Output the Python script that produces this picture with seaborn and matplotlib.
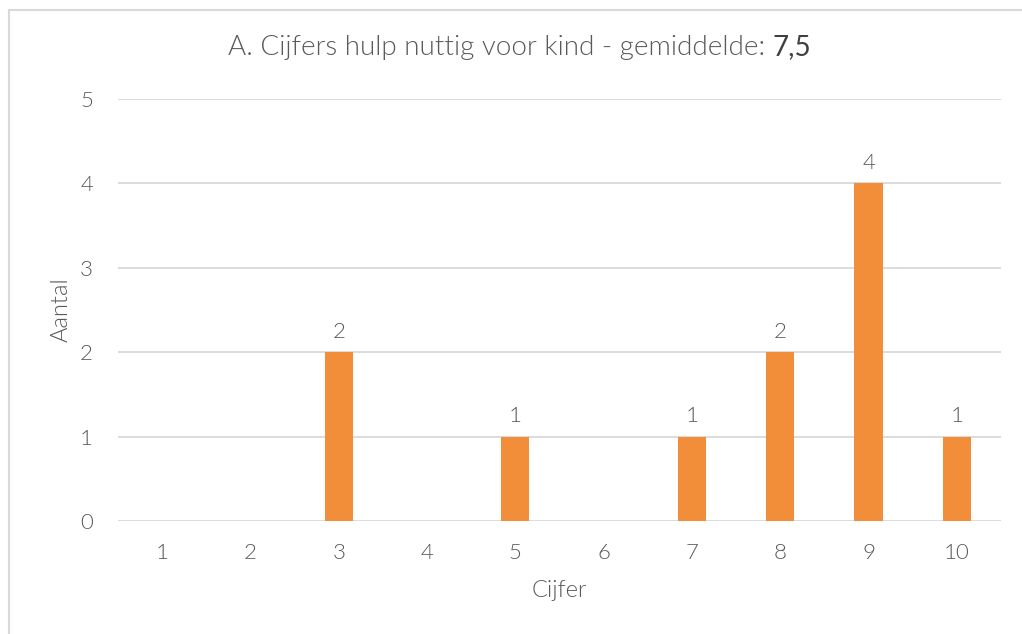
import matplotlib
matplotlib.use("Agg")
import matplotlib.pyplot as plt
import seaborn as sns
import pandas as pd
from matplotlib.lines import Line2D

# Data
cijfers = ["1", "2", "3", "4", "5", "6", "7", "8", "9", "10"]
aantal = [0, 0, 2, 0, 1, 0, 1, 2, 4, 1]
title_main = "A. Cijfers hulp nuttig voor kind - gemiddelde: "
title_value = "7,5"

df = pd.DataFrame({"Cijfer": cijfers, "Aantal": aantal})

sns.set_theme(style="white")
plt.rcParams["font.family"] = ["Lato", "DejaVu Sans"]

text_color = "#595959"
grid_color = "#D9D9D9"
bar_color = "#F28D3A"
LIGHT = 300

fig = plt.figure(figsize=(10.22, 6.34), dpi=100)
ax = fig.add_axes([118 / 1022, 1 - 521 / 634, 883 / 1022, 422 / 634])

sns.barplot(data=df, x="Cijfer", y="Aantal", color=bar_color, width=0.32,
            saturation=1, linewidth=0, ax=ax, zorder=3)

ax.set_ylim(0, 5)
ax.set_yticks(range(0, 6))
ax.yaxis.grid(True, color=grid_color, linewidth=1.3, zorder=0)
ax.set_axisbelow(True)
for s in ax.spines.values():
    s.set_visible(False)
ax.tick_params(axis="both", length=0, labelsize=16, labelcolor=text_color)
ax.tick_params(axis="x", pad=16)
ax.tick_params(axis="y", pad=18)
for lab in ax.get_xticklabels() + ax.get_yticklabels():
    lab.set_fontweight(LIGHT)

ax.set_xlabel("Cijfer", fontsize=17, color=text_color, fontweight=LIGHT, labelpad=12)
ax.set_ylabel("Aantal", fontsize=17, color=text_color, fontweight=LIGHT, labelpad=6)

# value labels (only non-zero bars)
for i, v in enumerate(aantal):
    if v > 0:
        ax.text(i, v + 0.12, str(v), ha="center", va="bottom", fontsize=16,
                color=text_color, fontweight=LIGHT)

# title in two parts, value darker
fig.canvas.draw()
renderer = fig.canvas.get_renderer()
t1 = fig.text(0, 1 - 47 / 634, title_main, fontsize=20, color=text_color,
              fontweight=LIGHT, va="center", ha="left")
t2 = fig.text(0, 1 - 47 / 634, title_value, fontsize=20, color="#404040",
              fontweight="normal", va="center", ha="left")
w1 = t1.get_window_extent(renderer).width / 1022
w2 = t2.get_window_extent(renderer).width / 1022
x0 = 520 / 1022 - (w1 + w2) / 2
t1.set_x(x0)
t2.set_x(x0 + w1)

# chart border (only top and left edges visible in the crop)
bx, by = 9 / 1022, 1 - 10 / 634
fig.lines.append(Line2D([bx, 1], [by, by], transform=fig.transFigure,
                        color="#D9D9D9", linewidth=1.5))
fig.lines.append(Line2D([bx, bx], [0, by], transform=fig.transFigure,
                        color="#D9D9D9", linewidth=1.5))

fig.savefig("out.png", dpi=100)
